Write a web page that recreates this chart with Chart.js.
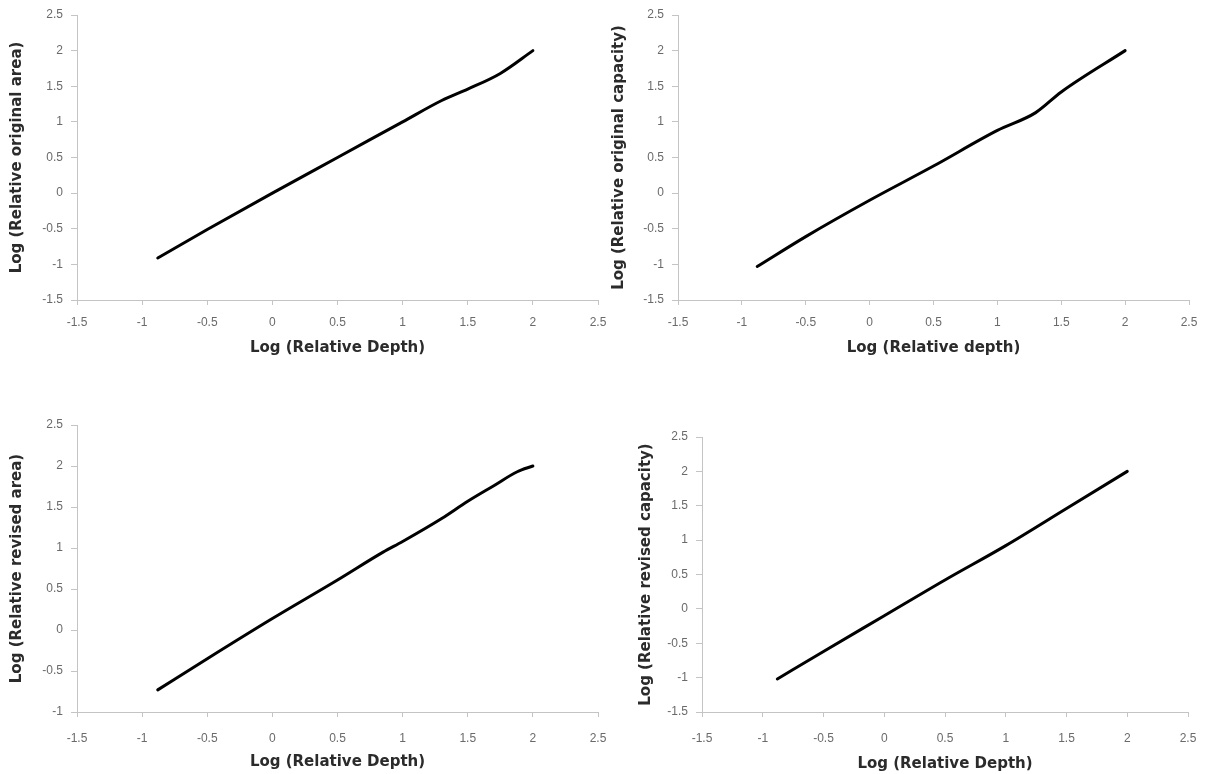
<!DOCTYPE html>
<html>
<head>
<meta charset="utf-8">
<script src="https://cdn.jsdelivr.net/npm/chart.js@4.4.1/dist/chart.umd.min.js"></script>
<style>
  html, body { margin: 0; padding: 0; background: #ffffff; }
  body { width: 1211px; height: 774px; position: relative; overflow: hidden; }
  .panel { position: absolute; }
  canvas { display: block; }
</style>
</head>
<body>
<div class="panel" style="left:0px;top:0px;width:610px;height:365px"><canvas id="c1" width="610" height="365"></canvas></div>
<div class="panel" style="left:600px;top:0px;width:611px;height:365px"><canvas id="c2" width="611" height="365"></canvas></div>
<div class="panel" style="left:0px;top:410px;width:610px;height:364px"><canvas id="c3" width="610" height="364"></canvas></div>
<div class="panel" style="left:600px;top:420px;width:611px;height:354px"><canvas id="c4" width="611" height="354"></canvas></div>
<script>
// ---- Data ----
// Panel 1: Log(Relative original area) vs Log(Relative Depth)
const origAreaDepth = [-0.88, -0.5, 0, 0.5, 1, 1.3, 1.5, 1.75, 2];
const origAreaValues = [-0.91, -0.51, 0, 0.5, 1, 1.3, 1.46, 1.68, 2.0];
// Panel 2: Log(Relative original capacity) vs Log(Relative depth)
const origCapDepth = [-0.88, -0.5, 0, 0.5, 1, 1.3, 1.5, 2];
const origCapValues = [-1.03, -0.61, -0.1, 0.38, 0.88, 1.13, 1.42, 2.0];
// Panel 3: Log(Relative revised area) vs Log(Relative Depth)
const revAreaDepth = [-0.88, -0.5, 0, 0.5, 0.85, 1, 1.3, 1.5, 1.7, 1.88, 2];
const revAreaValues = [-0.73, -0.35, 0.14, 0.61, 0.95, 1.08, 1.36, 1.57, 1.76, 1.93, 2.0];
// Panel 4: Log(Relative revised capacity) vs Log(Relative Depth)
const revCapDepth = [-0.88, -0.5, 0, 0.5, 1, 1.5, 2];
const revCapValues = [-1.02, -0.62, -0.1, 0.42, 0.92, 1.46, 2.0];

// Axis titles
const xTitles = ['Log (Relative Depth)', 'Log (Relative depth)', 'Log (Relative Depth)', 'Log (Relative Depth)'];
const yTitles = ['Log (Relative original area)', 'Log (Relative original capacity)', 'Log (Relative revised area)', 'Log (Relative revised capacity)'];
// Axis ranges
const xRange = [-1.5, 2.5];
const yRanges = [[-1.5, 2.5], [-1.5, 2.5], [-1, 2.5], [-1.5, 2.5]];
const tickStep = 0.5;

const AXIS_COLOR = '#c4c4c4';
const TICK_COLOR = '#6a6a6a';
const TITLE_COLOR = '#2b2b2b';

const fmt = v => String(Math.round(v * 10) / 10);

function makePanel(canvasId, xs, ys, idx, cfg) {
  const pts = xs.map((x, i) => ({ x: x, y: ys[i] }));
  return new Chart(document.getElementById(canvasId), {
    type: 'scatter',
    data: {
      datasets: [{
        data: pts,
        showLine: true,
        borderColor: '#000000',
        backgroundColor: '#000000',
        borderWidth: 3,
        pointRadius: 0,
        pointHoverRadius: 0,
        cubicInterpolationMode: 'monotone',
        borderCapStyle: 'round',
        borderJoinStyle: 'round'
      }]
    },
    options: {
      responsive: false,
      animation: false,
      events: [],
      layout: { padding: { left: 0, top: cfg.padTop, right: cfg.padRight, bottom: 0 } },
      plugins: { legend: { display: false }, tooltip: { enabled: false } },
      scales: {
        x: {
          type: 'linear',
          min: xRange[0], max: xRange[1],
          ticks: { stepSize: tickStep, callback: fmt, color: TICK_COLOR, font: { family: 'Liberation Sans', size: 12 }, padding: cfg.xTickPad, maxRotation: 0 },
          grid: { drawOnChartArea: false, drawTicks: true, tickLength: 5, color: AXIS_COLOR },
          border: { display: true, color: AXIS_COLOR, width: 1 },
          title: { display: true, text: xTitles[idx], color: TITLE_COLOR, font: { family: 'DejaVu Sans', size: 15, weight: 'bold' }, padding: { top: 0, bottom: cfg.xTitlePad } },
          afterFit: s => { s.height = cfg.xHeight; s.paddingLeft = 0; s.paddingRight = 0; }
        },
        y: {
          type: 'linear',
          min: yRanges[idx][0], max: yRanges[idx][1],
          ticks: { stepSize: tickStep, callback: fmt, color: TICK_COLOR, font: { family: 'Liberation Sans', size: 12 }, padding: 8 },
          grid: { drawOnChartArea: false, drawTicks: true, tickLength: 6, color: AXIS_COLOR },
          border: { display: true, color: AXIS_COLOR, width: 1 },
          title: { display: true, text: yTitles[idx], color: TITLE_COLOR, font: { family: 'DejaVu Sans', size: 15, weight: 'bold' }, padding: { top: cfg.yTitlePad, bottom: 0 } },
          afterFit: s => { s.width = cfg.yWidth; s.paddingTop = 0; s.paddingBottom = 0; }
        }
      }
    }
  });
}

makePanel('c1', origAreaDepth, origAreaValues, 0, { padTop: 15, padRight: 12, xHeight: 65, yWidth: 77, xTickPad: 10, xTitlePad: 8, yTitlePad: 8 });
makePanel('c2', origCapDepth, origCapValues, 1, { padTop: 15, padRight: 22, xHeight: 65, yWidth: 78, xTickPad: 10, xTitlePad: 8, yTitlePad: 10 });
makePanel('c3', revAreaDepth, revAreaValues, 2, { padTop: 15, padRight: 12, xHeight: 62, yWidth: 77, xTickPad: 14, xTitlePad: 3, yTitlePad: 8 });
makePanel('c4', revCapDepth, revCapValues, 3, { padTop: 17, padRight: 23, xHeight: 62, yWidth: 102, xTickPad: 14, xTitlePad: 1, yTitlePad: 37 });
</script>
</body>
</html>
